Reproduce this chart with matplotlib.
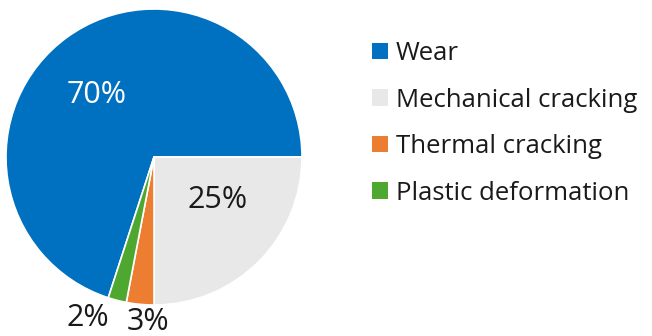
import matplotlib.pyplot as plt
from matplotlib.patches import Patch

# failure modes, shares in percent
labels = ["Wear", "Mechanical cracking", "Thermal cracking", "Plastic deformation"]
shares = [70, 25, 3, 2]
colors = ["#0070C0", "#E8E8E8", "#ED7D31", "#4EA72E"]
pct_colors = ["white", "#1a1a1a", "#1a1a1a", "#1a1a1a"]

plt.rcParams["font.family"] = ["Open Sans", "DejaVu Sans"]

fig = plt.figure(figsize=(6.52, 3.36), dpi=100)
ax = fig.add_axes([6 / 652, 31 / 336, 296 / 652, 296 / 336])

wedges, texts, autotexts = ax.pie(
    shares, colors=colors, startangle=252, counterclock=False,
    autopct="%d%%", pctdistance=0.55,
    wedgeprops=dict(edgecolor="white", linewidth=1.2),
    textprops=dict(fontsize=22),
)
ax.set_xlim(-1, 1)
ax.set_ylim(-1, 1)

# nudge the percentage labels, small slices go outside the rim
label_pos = [(-0.385, 0.42), (0.43, -0.29), (-0.04, -1.115), (-0.45, -1.09)]
for t, c, p in zip(autotexts, pct_colors, label_pos):
    t.set_color(c)
    t.set_position(p)

handles = [Patch(facecolor=c, edgecolor="none") for c in colors]
fig.legend(handles, labels, loc="upper left", bbox_to_anchor=(0.535, 0.947),
           frameon=False, fontsize=18.5, handlelength=0.62, handleheight=0.62,
           handletextpad=0.3, labelspacing=0.84, labelcolor="#1a1a1a")

fig.savefig("out.png", dpi=100)
